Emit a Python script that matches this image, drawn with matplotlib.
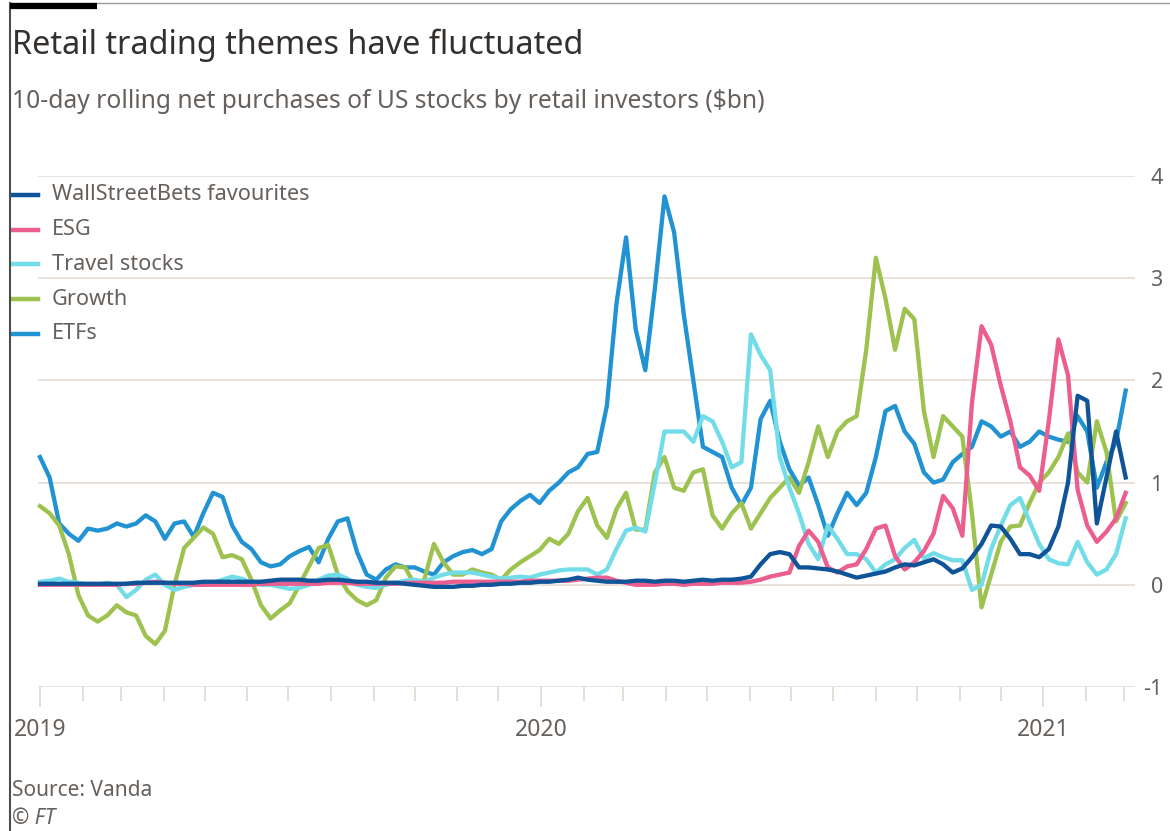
import numpy as np
import pandas as pd
import matplotlib
matplotlib.use("Agg")
import matplotlib.pyplot as plt
import matplotlib.dates as mdates
from matplotlib.lines import Line2D

plt.rcParams['font.family'] = ['Noto Sans', 'DejaVu Sans']
plt.rcParams['axes.unicode_minus'] = False

# weekly samples, 2019-01-01 .. 2021-03-02
dates = pd.date_range('2019-01-01', periods=114, freq='7D')

etfs = [1.25, 1.05, 0.60, 0.50, 0.43, 0.55, 0.53, 0.55, 0.60, 0.57,
        0.60, 0.68, 0.62, 0.45, 0.60, 0.62, 0.47, 0.70, 0.90, 0.86,
        0.58, 0.42, 0.35, 0.22, 0.18, 0.20, 0.28, 0.33, 0.37, 0.22,
        0.45, 0.62, 0.65, 0.32, 0.10, 0.05, 0.15, 0.20, 0.17, 0.17,
        0.13, 0.10, 0.22, 0.28, 0.32, 0.34, 0.30, 0.35, 0.62, 0.74,
        0.82, 0.88, 0.80, 0.92, 1.00, 1.10, 1.15, 1.28, 1.30, 1.75,
        2.75, 3.40, 2.50, 2.10, 2.90, 3.80, 3.45, 2.65, 2.00, 1.35,
        1.30, 1.25, 0.95, 0.78, 0.95, 1.62, 1.80, 1.40, 1.13, 0.97,
        1.05, 0.78, 0.48, 0.70, 0.90, 0.78, 0.90, 1.25, 1.70, 1.75,
        1.50, 1.38, 1.10, 1.00, 1.03, 1.20, 1.28, 1.35, 1.60, 1.55,
        1.45, 1.50, 1.35, 1.40, 1.50, 1.45, 1.42, 1.40, 1.65, 1.50,
        0.95, 1.20, 1.40, 1.90]

growth = [0.77, 0.70, 0.58, 0.30, -0.10, -0.30, -0.36, -0.30, -0.20, -0.27,
          -0.30, -0.50, -0.58, -0.45, 0.00, 0.36, 0.46, 0.56, 0.50, 0.27,
          0.29, 0.25, 0.05, -0.20, -0.33, -0.25, -0.18, 0.00, 0.18, 0.36,
          0.39, 0.10, -0.06, -0.15, -0.20, -0.15, 0.07, 0.18, 0.17, 0.00,
          0.05, 0.40, 0.22, 0.10, 0.10, 0.15, 0.12, 0.10, 0.05, 0.15,
          0.22, 0.28, 0.34, 0.45, 0.40, 0.50, 0.72, 0.85, 0.58, 0.46,
          0.74, 0.90, 0.54, 0.54, 1.10, 1.25, 0.95, 0.92, 1.10, 1.13,
          0.68, 0.55, 0.70, 0.80, 0.55, 0.70, 0.85, 0.95, 1.05, 0.90,
          1.20, 1.55, 1.25, 1.50, 1.60, 1.65, 2.30, 3.20, 2.80, 2.30,
          2.70, 2.60, 1.70, 1.25, 1.65, 1.55, 1.45, 0.70, -0.22, 0.10,
          0.42, 0.57, 0.58, 0.80, 1.00, 1.10, 1.25, 1.48, 1.10, 1.00,
          1.60, 1.30, 0.62, 0.80]

travel = [0.03, 0.04, 0.06, 0.03, 0.02, 0.00, 0.00, 0.02, 0.00, -0.12,
          -0.05, 0.05, 0.10, 0.00, -0.05, -0.02, 0.00, 0.00, 0.02, 0.05,
          0.08, 0.06, 0.02, 0.00, 0.00, -0.02, -0.04, -0.03, 0.00, 0.05,
          0.09, 0.10, 0.06, 0.00, -0.02, -0.03, 0.00, 0.02, 0.04, 0.05,
          0.03, 0.07, 0.10, 0.12, 0.12, 0.12, 0.10, 0.08, 0.06, 0.07,
          0.08, 0.07, 0.10, 0.12, 0.14, 0.15, 0.15, 0.15, 0.10, 0.15,
          0.35, 0.53, 0.56, 0.52, 1.00, 1.50, 1.50, 1.50, 1.40, 1.65,
          1.60, 1.40, 1.15, 1.20, 2.45, 2.25, 2.10, 1.25, 0.95, 0.70,
          0.40, 0.25, 0.58, 0.45, 0.30, 0.30, 0.25, 0.12, 0.20, 0.25,
          0.36, 0.44, 0.26, 0.31, 0.27, 0.24, 0.24, -0.05, 0.00, 0.35,
          0.58, 0.78, 0.85, 0.62, 0.40, 0.25, 0.21, 0.20, 0.42, 0.22,
          0.10, 0.15, 0.30, 0.65]

esg = [0.00, 0.00, 0.00, 0.00, 0.00, 0.00, 0.00, 0.00, 0.00, 0.01,
       0.01, 0.02, 0.03, 0.02, 0.01, 0.01, 0.00, 0.00, 0.00, 0.00,
       0.00, 0.00, 0.00, 0.01, 0.01, 0.01, 0.01, 0.01, 0.01, 0.01,
       0.02, 0.02, 0.02, 0.01, 0.01, 0.01, 0.01, 0.01, 0.02, 0.02,
       0.02, 0.02, 0.02, 0.03, 0.03, 0.03, 0.03, 0.03, 0.03, 0.03,
       0.03, 0.04, 0.04, 0.04, 0.04, 0.04, 0.05, 0.06, 0.07, 0.07,
       0.04, 0.02, 0.00, 0.00, 0.00, 0.01, 0.01, 0.00, 0.01, 0.01,
       0.01, 0.02, 0.02, 0.02, 0.03, 0.05, 0.08, 0.10, 0.12, 0.38,
       0.53, 0.42, 0.17, 0.12, 0.18, 0.20, 0.35, 0.55, 0.58, 0.28,
       0.15, 0.22, 0.33, 0.50, 0.87, 0.75, 0.48, 1.78, 2.53, 2.35,
       1.95, 1.60, 1.15, 1.07, 0.92, 1.60, 2.40, 2.05, 0.93, 0.58,
       0.42, 0.52, 0.65, 0.90]

wsb = [0.01, 0.01, 0.01, 0.01, 0.01, 0.01, 0.01, 0.01, 0.01, 0.01,
       0.02, 0.02, 0.02, 0.02, 0.02, 0.02, 0.02, 0.03, 0.03, 0.03,
       0.03, 0.03, 0.03, 0.03, 0.04, 0.05, 0.05, 0.05, 0.04, 0.04,
       0.05, 0.05, 0.04, 0.03, 0.03, 0.02, 0.02, 0.02, 0.01, 0.00,
       -0.01, -0.02, -0.02, -0.02, -0.01, -0.01, 0.00, 0.00, 0.01, 0.01,
       0.02, 0.02, 0.03, 0.03, 0.04, 0.05, 0.07, 0.05, 0.04, 0.03,
       0.03, 0.03, 0.04, 0.04, 0.03, 0.04, 0.04, 0.03, 0.04, 0.05,
       0.04, 0.05, 0.05, 0.06, 0.08, 0.20, 0.30, 0.32, 0.30, 0.17,
       0.17, 0.16, 0.15, 0.13, 0.10, 0.07, 0.09, 0.11, 0.13, 0.17,
       0.20, 0.19, 0.22, 0.25, 0.20, 0.12, 0.16, 0.27, 0.40, 0.58,
       0.57, 0.45, 0.30, 0.30, 0.27, 0.35, 0.57, 1.00, 1.85, 1.80,
       0.60, 1.05, 1.50, 1.05]

names = ['WallStreetBets favourites', 'ESG', 'Travel stocks', 'Growth', 'ETFs']
series = [wsb, esg, travel, growth, etfs]
colors = ['#0f5499', '#ec5e8f', '#72dde8', '#9dc24f', '#2293d2']

W, H = 1170, 831
fig = plt.figure(figsize=(W / 100, H / 100), dpi=100)
fig.patch.set_facecolor('white')

ax = fig.add_axes([38 / W, 1 - 687 / H, (1135 - 38) / W, (687 - 176) / H])
ax.set_facecolor('white')

# draw in reverse order so WSB ends up on top
for vals, c in reversed(list(zip(series, colors))):
    ax.plot(dates, vals, color=c, lw=3.1, solid_joinstyle='round', clip_on=False, zorder=3)

x0 = mdates.date2num(pd.Timestamp('2019-01-01'))
ax.set_xlim(x0 - 1.46, x0 + 797.8)
ax.set_ylim(-1, 4)

grid_c = '#e9e2da'
ax.set_yticks([-1, 0, 1, 2, 3, 4])
ax.set_yticklabels(['-1', '0', '1', '2', '3', '4'])
ax.yaxis.tick_right()
ax.grid(axis='y', color=grid_c, lw=1.4, zorder=0)
ax.tick_params(axis='y', length=0, pad=20, labelsize=15.5, labelcolor='#66605c')
for lbl in ax.get_yticklabels():
    lbl.set_horizontalalignment('right')

ax.xaxis.set_major_locator(mdates.YearLocator())
ax.xaxis.set_major_formatter(mdates.DateFormatter('%Y'))
ax.xaxis.set_minor_locator(mdates.MonthLocator())
ax.tick_params(axis='x', which='major', length=14.5, width=1.3, color='#e3dbd3',
               pad=8, labelsize=16.5, labelcolor='#66605c')
ax.tick_params(axis='x', which='minor', length=10, width=1.3, color='#e3dbd3')

for s in ax.spines.values():
    s.set_visible(False)

# legend, drawn by hand to sit left of the plot area
for i, (n, c) in enumerate(zip(names, colors)):
    yy = 1 - (195 + i * 34.7) / H
    fig.add_artist(Line2D([12 / W, 38 / W], [yy, yy], color=c, lw=3.2))
    fig.text(52 / W, yy, n, fontsize=15.6, color='#66605c', va='center', ha='left')

fig.text(12 / W, 1 - 45 / H, 'Retail trading themes have fluctuated',
         fontsize=23.3, color='#33302e', va='center', ha='left')
fig.text(12 / W, 1 - 101 / H, '10-day rolling net purchases of US stocks by retail investors ($bn)',
         fontsize=17.7, color='#66605c', va='center', ha='left')
fig.text(12 / W, 1 - 791 / H, 'Source: Vanda', fontsize=15, color='#66605c', va='center', ha='left')
fig.text(12 / W, 1 - 818 / H, '\u00a9 FT', fontsize=15, color='#66605c', va='center', ha='left',
         style='italic')

# frame of the screenshot
fig.add_artist(Line2D([10 / W, 10 / W], [0, 1 - 3 / H], color='#4d4d4d', lw=1.5))
fig.add_artist(Line2D([10 / W, 1], [1 - 3 / H, 1 - 3 / H], color='#9a9a9a', lw=1))
fig.add_artist(Line2D([10 / W, 97 / W], [1 - 6 / H, 1 - 6 / H], color='black', lw=4.5,
                      solid_capstyle='butt'))

fig.savefig('out.png', dpi=100, facecolor='white')
